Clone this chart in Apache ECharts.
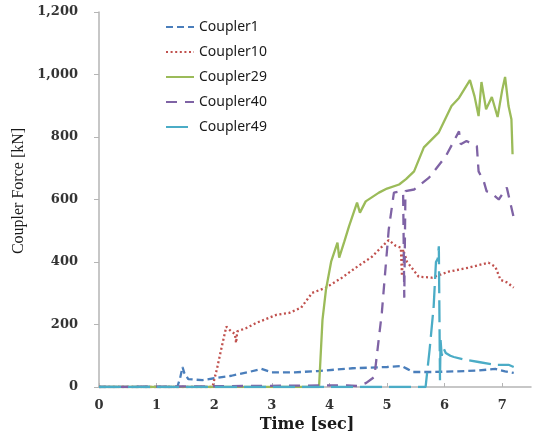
<!DOCTYPE html>
<html>
<head>
<meta charset="utf-8">
<script src="https://cdn.jsdelivr.net/npm/echarts@6/dist/echarts.min.js"></script>
<style>html,body{margin:0;padding:0;background:#fff}#c{width:534px;height:438px}</style>
</head>
<body>
<div id="c"></div>
<script>
const seriesNames = ['Coupler1', 'Coupler10', 'Coupler29', 'Coupler40', 'Coupler49'];
const xTicks = [0, 1, 2, 3, 4, 5, 6, 7];
const yTicks = [0, 200, 400, 600, 800, 1000, 1200];

const c1Time  = [0, 1.36, 1.41, 1.45, 1.48, 1.55, 1.8, 2.0, 2.3, 2.6, 2.82, 3.0, 3.4, 3.8, 4.4, 5.0, 5.25, 5.35, 5.45, 5.8, 6.2, 6.6, 6.88, 7.05, 7.2];
const c1Force = [0, 0, 30, 64, 45, 25, 22, 28, 36, 48, 58, 47, 47, 51, 60, 64, 67, 58, 48, 48, 50, 53, 58, 50, 45];

const c10Time  = [0, 1.97, 2.05, 2.13, 2.21, 2.3, 2.36, 2.38, 2.4, 2.55, 2.73, 3.08, 3.3, 3.51, 3.7, 3.94, 4.22, 4.46, 4.74, 4.95, 5.03, 5.15, 5.24, 5.26, 5.28, 5.35, 5.55, 5.78, 6.07, 6.42, 6.76, 6.88, 6.97, 7.08, 7.2];
const c10Force = [0, 0, 60, 128, 193, 177, 170, 141, 178, 188, 205, 231, 237, 254, 301, 318, 350, 382, 417, 456, 470, 452, 446, 355, 440, 400, 353, 350, 369, 382, 398, 385, 343, 335, 318];

const c29Time  = [0, 3.82, 3.88, 3.94, 4.03, 4.14, 4.17, 4.26, 4.34, 4.48, 4.53, 4.63, 4.86, 5.0, 5.21, 5.33, 5.47, 5.64, 5.9, 6.12, 6.25, 6.44, 6.52, 6.59, 6.64, 6.72, 6.82, 6.92, 7.0, 7.05, 7.11, 7.16, 7.18];
const c29Force = [0, 0, 215, 311, 401, 462, 414, 466, 514, 590, 558, 594, 622, 635, 648, 665, 690, 767, 815, 899, 925, 982, 930, 867, 976, 889, 928, 864, 950, 992, 899, 857, 745];

const c40Time  = [0, 4.0, 4.3, 4.5, 4.64, 4.78, 4.91, 5.03, 5.12, 5.2, 5.28, 5.30, 5.32, 5.47, 5.73, 6.02, 6.25, 6.28, 6.38, 6.56, 6.59, 6.68, 6.73, 6.8, 6.94, 7.08, 7.2];
const c40Force = [0, 5, 5, 3, 13, 32, 237, 504, 622, 625, 622, 286, 627, 632, 670, 738, 818, 777, 787, 771, 690, 658, 626, 623, 600, 638, 542];

const c49Time  = [0, 5.67, 5.74, 5.81, 5.85, 5.88, 5.9, 5.92, 5.93, 5.95, 5.98, 6.02, 6.1, 6.16, 6.36, 6.59, 6.88, 7.11, 7.2];
const c49Force = [0, 0, 120, 257, 400, 410, 450, 22, 150, 100, 125, 109, 100, 96, 87, 80, 71, 71, 64];

const times = [c1Time, c10Time, c29Time, c40Time, c49Time];
const forces = [c1Force, c10Force, c29Force, c40Force, c49Force];
const colors = ['#4a7ebb', '#c0504d', '#9bbb59', '#7f63a5', '#4bacc6'];
const dashes = [[7, 4], [2, 2.6], 'solid', [11, 8], [22, 7]];

function pairs(t, f) { return t.map((v, i) => [v, f[i]]); }

const chart = echarts.init(document.getElementById('c'), null, { renderer: 'canvas' });
chart.setOption({
  animation: false,
  backgroundColor: '#ffffff',
  grid: { left: 99, right: 3, top: 12, bottom: 51, containLabel: false, outerBoundsMode: 'none' },
  legend: {
    orient: 'vertical', left: 160, top: 15,
    itemWidth: 28, itemHeight: 14, itemGap: 11,
    itemStyle: { color: 'transparent', borderWidth: 0, opacity: 0 },
    textStyle: { fontFamily: 'Noto Sans', fontSize: 14, color: '#1a1a1a' },
    data: seriesNames
  },
  xAxis: {
    type: 'value', min: 0, max: 7.5, interval: 1,
    name: 'Time [sec]', nameLocation: 'middle', nameGap: 27,
    nameTextStyle: { fontFamily: 'DejaVu Serif', fontWeight: 'bold', fontSize: 16, color: '#1a1a1a', padding: [0, 16, 0, 0] },
    axisLine: { show: true, lineStyle: { color: '#b5b5b5', width: 1.5 } },
    axisTick: { show: true, inside: true, length: 4, lineStyle: { color: '#b5b5b5' }, customValues: xTicks },
    axisLabel: { customValues: xTicks, margin: 12, fontFamily: 'DejaVu Serif', fontWeight: 'bold', fontSize: 13, color: '#333' },
    splitLine: { show: false }
  },
  yAxis: {
    type: 'value', min: 0, max: 1200, interval: 200,
    name: 'Coupler Force [kN]', nameLocation: 'middle', nameGap: 54,
    nameTextStyle: { fontFamily: 'Liberation Serif', fontSize: 16, color: '#1a1a1a', padding: [0, 0, 0, 17] },
    axisLine: { show: true, lineStyle: { color: '#b5b5b5', width: 1.5 } },
    axisTick: { show: true, inside: false, length: 5, lineStyle: { color: '#b5b5b5' } },
    axisLabel: {
      margin: 21, fontFamily: 'DejaVu Serif', fontWeight: 'bold', fontSize: 13, color: '#333',
      formatter: v => v.toLocaleString('en-US')
    },
    splitLine: { show: false }
  },
  series: seriesNames.map((n, i) => ({
    name: n, type: 'line', symbol: 'none', showSymbol: false, smooth: false,
    data: pairs(times[i], forces[i]),
    color: colors[i],
    lineStyle: { color: colors[i], width: 2.3, type: dashes[i] },
    emphasis: { disabled: true }
  }))
});
</script>
</body>
</html>
